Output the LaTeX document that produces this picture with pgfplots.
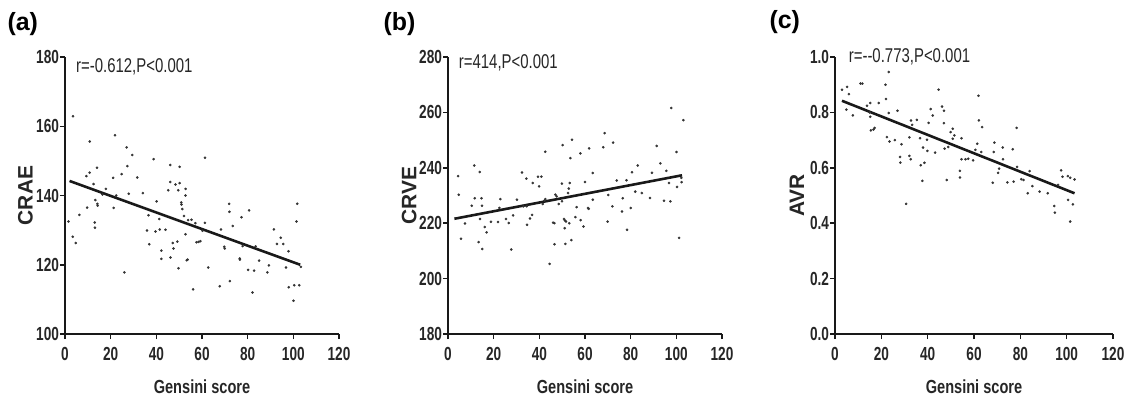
\documentclass[border=0pt]{standalone}
\usepackage{pgfplots}
\pgfplotsset{compat=1.18}
\usepackage{pgfplotstable}
\usepackage{fontspec}
\setmainfont{Liberation Sans}
\newfontfamily\narrowfont{Liberation Sans}[FakeStretch=0.72]
\newfontfamily\labfont{Liberation Sans}[FakeStretch=0.77]
\newfontfamily\annfont{Liberation Sans}[FakeStretch=0.75]

\pgfplotstableread{
x y
1.5 132.5
3.5 162.9
3.4 128.1
4.7 126.3
6.3 134.4
9.4 145.6
9.7 136.5
10.8 155.6
10.8 146.6
12.5 143.3
13.0 132.2
13.1 130.7
13.3 138.7
14.0 148.0
14.2 137.6
14.3 137.1
16.4 140.3
17.9 141.9
21.1 145.1
21.3 136.4
21.9 157.4
22.4 140.0
24.8 146.2
26.0 117.8
27.0 153.9
27.3 148.5
27.9 140.5
29.5 151.7
31.6 145.2
34.1 140.7
36.6 134.3
36.9 125.9
35.9 129.9
38.8 150.5
39.6 129.6
40.1 138.3
41.3 133.2
41.5 130.2
42.2 124.1
42.2 121.7
44.0 130.1
45.2 141.5
46.1 148.8
46.1 143.9
46.2 122.1
47.2 126.3
47.5 124.7
48.4 143.2
49.6 141.5
49.2 126.7
49.7 119.0
50.2 148.3
50.2 143.6
50.9 138.0
51.0 137.4
51.4 136.1
52.1 134.1
52.8 141.9
52.8 140.0
52.8 128.8
53.3 121.3
53.7 121.5
53.9 132.9
55.4 133.0
56.1 112.9
57.1 132.0
57.6 126.5
58.5 126.6
59.3 126.8
60.2 129.8
61.3 150.9
61.3 132.1
62.7 119.2
67.8 113.8
68.3 130.2
69.7 125.2
70.0 124.7
71.9 137.6
72.0 135.3
72.2 115.3
73.5 131.2
76.5 121.8
76.6 121.5
77.3 133.7
77.8 125.4
80.2 118.5
80.6 135.7
82.1 112.0
82.8 118.3
83.5 125.3
85.0 121.2
88.6 117.8
89.3 119.8
91.5 130.2
92.8 126.0
94.5 127.8
95.6 126.0
96.8 119.2
97.9 123.9
98.0 113.5
100.1 109.6
100.4 114.1
101.4 132.5
101.7 137.6
102.6 114.1
103.3 119.4
}\dataA

\pgfplotstableread{
x y
4.4 237.0
4.7 230.3
5.7 214.4
7.4 219.9
10.4 226.3
11.5 240.8
11.7 229.0
13.4 213.2
13.9 238.5
14.0 221.5
14.7 229.0
14.9 226.3
15.0 210.7
16.1 218.6
16.9 216.7
18.8 220.5
21.9 220.4
22.5 225.5
22.9 228.7
25.4 221.5
26.6 220.1
27.7 210.5
28.5 222.8
30.2 228.5
32.4 238.3
33.0 226.1
34.3 236.1
34.6 219.4
34.5 226.1
35.9 221.7
36.8 223.0
37.1 234.5
39.4 236.8
39.9 233.3
40.9 236.8
41.5 226.9
42.3 228.2
42.6 245.8
42.6 228.7
44.5 205.3
46.0 220.2
46.6 220.0
46.6 212.4
47.0 230.3
47.6 229.7
48.5 226.9
49.9 227.9
49.9 234.3
50.2 248.2
50.8 221.5
51.2 221.0
51.1 218.2
51.4 212.5
51.7 220.6
52.6 230.9
52.9 232.5
53.3 234.5
53.1 220.0
53.6 243.5
54.0 213.9
54.3 250.1
55.8 222.2
56.3 225.8
58.0 245.2
58.1 221.1
59.3 218.8
60.0 234.9
61.3 225.5
61.6 225.2
61.8 247.0
63.4 238.1
63.4 228.5
68.0 247.4
68.6 252.5
69.9 220.6
70.2 230.2
72.0 226.1
72.3 249.1
73.9 235.4
76.2 224.2
76.5 229.0
78.2 235.5
78.4 217.6
80.0 225.5
80.6 238.4
82.0 231.4
83.1 240.8
84.9 230.9
88.5 229.1
89.3 238.2
91.4 247.9
93.0 241.6
94.6 228.1
95.6 238.9
96.8 234.5
97.4 227.9
97.8 261.6
100.1 245.7
100.3 233.1
101.2 214.7
102.3 234.8
103.1 257.2
102.2 236.4
}\dataB

\pgfplotstableread{
x y
3.0 0.882
5.2 0.892
4.9 0.810
6.0 0.866
7.7 0.789
11.0 0.904
11.8 0.904
13.8 0.824
14.9 0.800
15.2 0.834
15.2 0.784
15.5 0.735
16.6 0.738
17.1 0.744
18.9 0.834
21.8 0.900
22.0 0.848
23.2 0.946
23.2 0.798
22.4 0.711
23.5 0.695
25.8 0.700
27.0 0.806
28.7 0.685
28.1 0.639
28.2 0.619
30.7 0.470
32.1 0.710
32.1 0.643
32.7 0.631
32.8 0.771
33.3 0.755
35.3 0.773
36.7 0.707
37.0 0.609
37.7 0.553
38.0 0.673
38.6 0.618
39.9 0.661
39.7 0.701
40.4 0.762
41.3 0.812
42.2 0.789
43.2 0.655
44.7 0.882
46.2 0.821
47.0 0.806
47.0 0.761
47.3 0.669
48.2 0.556
48.9 0.675
49.9 0.729
50.8 0.741
51.5 0.717
50.8 0.705
53.9 0.589
53.9 0.565
54.6 0.707
54.6 0.631
56.3 0.631
57.5 0.633
59.6 0.627
60.6 0.665
61.4 0.687
61.9 0.860
62.1 0.771
63.5 0.747
63.1 0.657
68.1 0.546
68.5 0.657
68.8 0.691
70.4 0.582
70.8 0.597
72.4 0.673
72.5 0.631
74.4 0.547
76.7 0.667
77.1 0.550
78.4 0.744
78.6 0.603
80.4 0.559
81.4 0.556
83.2 0.508
84.0 0.588
85.2 0.534
88.3 0.514
91.8 0.508
94.6 0.462
94.9 0.438
96.3 0.538
97.6 0.591
98.2 0.568
100.5 0.570
100.6 0.484
101.5 0.406
101.5 0.564
102.7 0.468
103.4 0.558
}\dataC

\pgfplotsset{
  gp/.style={
    scale only axis, width=274bp, height=277bp,
    anchor=south west, clip=false,
    axis x line*=bottom, axis y line*=left,
    axis line style={line width=1.8pt, black!90},
    xmin=0, xmax=120, xtick={0,20,...,120},
    tick align=outside, major tick length=5bp,
    major tick style={line width=1.5pt, black!90},
    minor tick num=0,
    /pgf/number format/assume math mode=true,
    ticklabel style={font=\narrowfont\bfseries\fontsize{19}{19}\selectfont, text=black!85},
    xticklabel style={yshift=-5bp},
    yticklabel style={xshift=2.5bp},
    xlabel={Gensini score},
    xlabel style={font=\labfont\bfseries\fontsize{19}{19}\selectfont, text=black!85, inner sep=0pt, at={(axis description cs:0.5,-0.19)}, anchor=center},
    ylabel style={font=\bfseries\fontsize{21}{21}\selectfont, text=black!85, anchor=center, inner sep=0pt},
  },
  dots/.style={only marks, mark=*, mark size=1.1bp, black!80, mark options={draw=none, fill=black!80}},
  fit/.style={no marks, line width=2.6pt, black!90},
}

\begin{document}
\begin{tikzpicture}[x=1bp,y=1bp]
\path[use as bounding box] (0,0) rectangle (1129,397);

\node[anchor=west, font=\bfseries\fontsize{25}{25}\selectfont] at (4,373) {(a)};
\node[anchor=west, font=\bfseries\fontsize{25}{25}\selectfont] at (380,373) {(b)};
\node[anchor=west, font=\bfseries\fontsize{25}{25}\selectfont] at (766,375) {(c)};

\begin{axis}[gp, at={(65bp,63bp)},
  ymin=100, ymax=180, ytick={100,120,...,180},
  ylabel={CRAE}, ylabel style={at={(axis description cs:-0.144,0.5)}}]
  \addplot[dots] table {\dataA};
  \addplot[fit] coordinates {(2,144.2) (103,120.0)};
  \node[anchor=west, inner sep=0pt, font=\annfont\fontsize{20}{20}\selectfont, text=black!85] at (axis description cs:0.04,0.965) {r=-0.612,P<0.001};
\end{axis}

\begin{axis}[gp, at={(448bp,63bp)},
  ymin=180, ymax=280, ytick={180,200,...,280},
  ylabel={CRVE}, ylabel style={at={(axis description cs:-0.142,0.5)}}]
  \addplot[dots] table {\dataB};
  \addplot[fit] coordinates {(2.8,221.6) (102.5,237.3)};
  \node[anchor=west, inner sep=0pt, font=\annfont\fontsize{20}{20}\selectfont, text=black!85] at (axis description cs:0.039,0.978) {r=414,P<0.001};
\end{axis}

\begin{axis}[gp, at={(835bp,63bp)}, width=278bp,
  ymin=0, ymax=1, ytick={0,0.2,...,1.0},
  yticklabel style={/pgf/number format/fixed, /pgf/number format/fixed zerofill, /pgf/number format/precision=1},
  ylabel={AVR}, ylabel style={at={(axis description cs:-0.137,0.5)}}]
  \addplot[dots] table {\dataC};
  \addplot[fit] coordinates {(3,0.842) (103.4,0.508)};
  \node[anchor=west, inner sep=0pt, font=\annfont\fontsize{20}{20}\selectfont, text=black!85] at (axis description cs:0.049,1.0) {r=--0.773,P<0.001};
\end{axis}
\end{tikzpicture}
\end{document}
